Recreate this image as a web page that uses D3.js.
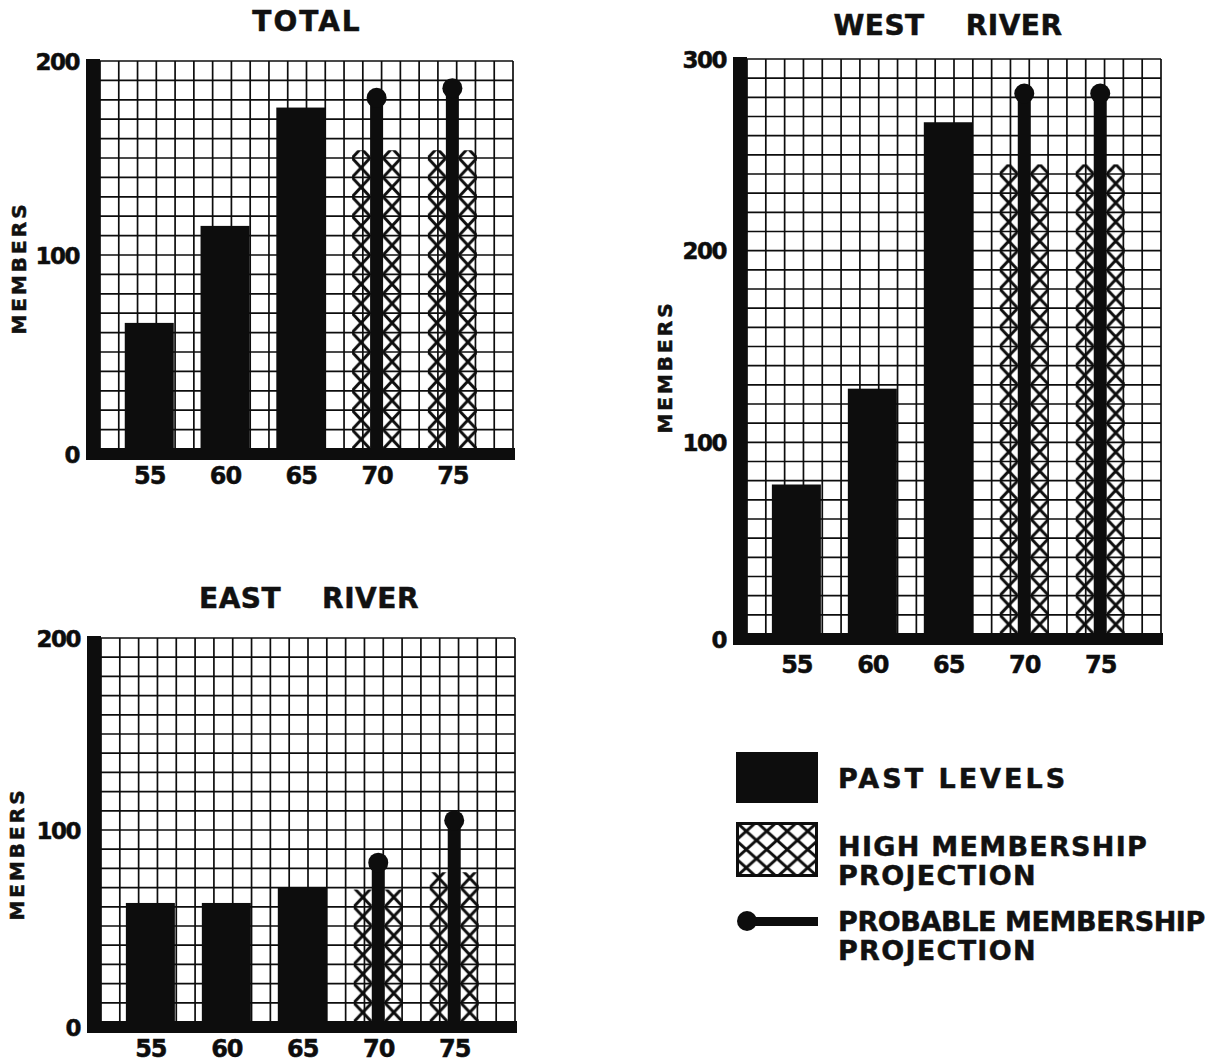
<!DOCTYPE html>
<html>
<head>
<meta charset="utf-8">
<script src="https://cdn.jsdelivr.net/npm/d3@7/dist/d3.min.js"></script>
<style>
  body { margin: 0; background: #fff; }
  svg text { font-family: "DejaVu Sans", sans-serif; font-weight: bold; fill: #111; stroke: #111; stroke-width: 0.5px; }
</style>
</head>
<body>
<svg id="chart" width="1219" height="1063"></svg>
<script>
// years on the x axis
const years = [55, 60, 65, 70, 75];
const pastYears = [55, 60, 65];
const projYears = [70, 75];

// TOTAL
const totalPast = [65, 115, 176];
const totalHigh = [154, 154];
const totalProbable = [181, 186];
const totalTicks = [0, 100, 200];

// WEST RIVER
const westPast = [78, 128, 267];
const westHigh = [245, 245];
const westProbable = [282, 282];
const westTicks = [0, 100, 200, 300];

// EAST RIVER
const eastPast = [62, 62, 70];
const eastHigh = [69, 78];
const eastProbable = [83, 105];
const eastTicks = [0, 100, 200];

const legendLabels = [
    ["PAST LEVELS"],
    ["HIGH MEMBERSHIP", "PROJECTION"],
    ["PROBABLE MEMBERSHIP", "PROJECTION"]
];

const svg = d3.select("#chart");
svg.append("rect").attr("width", 1219).attr("height", 1063).attr("fill", "#fff");
const defs = svg.append("defs");

const ink = "#0d0d0d";
const barWidth = 49;
const stemWidth = 13;

function drawPanel(p) {
    const x = d3.scaleLinear().domain([51.75, 79]).range([p.left, p.right]);
    const y = d3.scaleLinear().domain([0, p.max]).range([p.bottom, p.top]);
    const gridX = d3.scaleLinear().domain([0, 22]).range([p.left, p.right]);
    const g = svg.append("g");

    // grid paper
    g.append("g")
        .selectAll("line")
        .data(d3.range(0, 23))
        .join("line")
        .attr("x1", d => gridX(d)).attr("x2", d => gridX(d))
        .attr("y1", y(p.max)).attr("y2", y(0))
        .style("stroke", ink).style("stroke-width", 1.7);

    g.append("g")
        .selectAll("line")
        .data(d3.range(0, p.max + 1, 10))
        .join("line")
        .attr("x1", p.left).attr("x2", p.right)
        .attr("y1", d => y(d)).attr("y2", d => y(d))
        .style("stroke", ink).style("stroke-width", 1.7);

    // past levels
    g.append("g")
        .selectAll("rect")
        .data(pastYears.map((yr, i) => ({ yr, v: p.past[i] })))
        .join("rect")
        .attr("x", d => x(d.yr) - barWidth / 2)
        .attr("width", barWidth)
        .attr("y", d => y(d.v))
        .attr("height", d => y(0) - y(d.v))
        .style("fill", ink);

    // high projection, two hatched halves around the stem
    const half = (barWidth - stemWidth) / 2;
    const rowH = y(0) - y(10);
    const halves = projYears.flatMap((yr, i) => [
        { id: `hatch-${p.key}-${i}-l`, x0: x(yr) - barWidth / 2, v: p.high[i] },
        { id: `hatch-${p.key}-${i}-r`, x0: x(yr) + stemWidth / 2, v: p.high[i] }
    ]);

    const pat = defs.selectAll(null)
        .data(halves)
        .join("pattern")
        .attr("id", d => d.id)
        .attr("patternUnits", "userSpaceOnUse")
        .attr("x", d => d.x0)
        .attr("y", y(0))
        .attr("width", half)
        .attr("height", rowH);
    pat.append("path")
        .attr("d", `M0,0L${half},${rowH}M${half},0L0,${rowH}`)
        .style("stroke", ink).style("stroke-width", 3).style("fill", "none");

    g.append("g")
        .selectAll("rect")
        .data(halves)
        .join("rect")
        .attr("x", d => d.x0)
        .attr("width", half)
        .attr("y", d => y(d.v))
        .attr("height", d => y(0) - y(d.v))
        .style("fill", d => `url(#${d.id})`);

    // probable projection: stem with a ball on top
    const prob = projYears.map((yr, i) => ({ yr, v: p.probable[i] }));
    g.append("g")
        .selectAll("rect")
        .data(prob)
        .join("rect")
        .attr("x", d => x(d.yr) - stemWidth / 2)
        .attr("width", stemWidth)
        .attr("y", d => y(d.v))
        .attr("height", d => y(0) - y(d.v))
        .style("fill", ink);
    g.append("g")
        .selectAll("circle")
        .data(prob)
        .join("circle")
        .attr("cx", d => x(d.yr))
        .attr("cy", d => y(d.v))
        .attr("r", 10)
        .style("fill", ink);

    // heavy axes
    g.append("rect")
        .attr("x", p.left - 14).attr("width", 14)
        .attr("y", y(p.max) - 2).attr("height", y(0) - y(p.max) + 13)
        .style("fill", ink);
    g.append("rect")
        .attr("x", p.left - 14).attr("width", p.right - p.left + 16)
        .attr("y", y(0) - 1).attr("height", 12)
        .style("fill", ink);

    // tick labels
    const ax = g.append("g")
        .attr("transform", `translate(0,${y(0)})`)
        .call(d3.axisBottom(x).tickValues(years).tickSize(0).tickPadding(p.xPad));
    ax.select(".domain").remove();
    ax.selectAll("text")
        .attr("font-size", 24).attr("font-family", null)
        .attr("letter-spacing", -1).style("fill", ink);

    const ay = g.append("g")
        .attr("transform", `translate(${p.left},0)`)
        .call(d3.axisLeft(y).tickValues(p.ticks).tickSize(0).tickPadding(21));
    ay.select(".domain").remove();
    ay.selectAll("text")
        .attr("font-size", 23).attr("font-family", null)
        .attr("letter-spacing", -1.5).style("fill", ink)
        .attr("dy", d => d === 0 ? "0.6em" : "0.36em");

    // titles
    g.append("text")
        .attr("x", p.titleX).attr("y", p.titleY)
        .attr("text-anchor", "middle")
        .attr("font-size", 28)
        .attr("letter-spacing", p.titleSpacing)
        .style("white-space", "pre")
        .text(p.title);

    g.append("text")
        .attr("transform", `translate(${p.labelX},${p.labelY}) rotate(-90)`)
        .attr("text-anchor", "middle")
        .attr("dy", "0.36em")
        .attr("font-size", 20)
        .attr("letter-spacing", 3)
        .text("MEMBERS");
}

drawPanel({ key: "total", title: "TOTAL", titleSpacing: 2, past: totalPast, high: totalHigh,
    probable: totalProbable, ticks: totalTicks, max: 200, left: 100, right: 513, top: 61, bottom: 449,
    xPad: 18, titleX: 307, titleY: 31, labelX: 19, labelY: 268 });

drawPanel({ key: "west", title: "WEST    RIVER", titleSpacing: 0.5, past: westPast, high: westHigh,
    probable: westProbable, ticks: westTicks, max: 300, left: 747, right: 1161, top: 59, bottom: 634,
    xPad: 22, titleX: 948, titleY: 35, labelX: 665, labelY: 367 });

drawPanel({ key: "east", title: "EAST    RIVER", titleSpacing: 0.5, past: eastPast, high: eastHigh,
    probable: eastProbable, ticks: eastTicks, max: 200, left: 101, right: 515, top: 638, bottom: 1022,
    xPad: 18, titleX: 309, titleY: 608, labelX: 17, labelY: 854 });

// legend
const legend = svg.append("g");
legend.append("rect")
    .attr("x", 736).attr("y", 752).attr("width", 82).attr("height", 51)
    .style("fill", ink);

defs.append("pattern")
    .attr("id", "legend-hatch")
    .attr("patternUnits", "userSpaceOnUse")
    .attr("x", 736).attr("y", 822)
    .attr("width", 20.5).attr("height", 18.3)
    .append("path")
    .attr("d", "M0,0L20.5,18.3M20.5,0L0,18.3")
    .style("stroke", ink).style("stroke-width", 3).style("fill", "none");

legend.append("rect")
    .attr("x", 737.5).attr("y", 823.5).attr("width", 79).attr("height", 52)
    .style("fill", "url(#legend-hatch)")
    .style("stroke", ink).style("stroke-width", 3);

legend.append("rect")
    .attr("x", 747).attr("y", 917).attr("width", 71).attr("height", 9)
    .style("fill", ink);
legend.append("circle")
    .attr("cx", 747).attr("cy", 921).attr("r", 10)
    .style("fill", ink);

// per-line letter spacing, to match the widths of the original lettering
const legendY = [788, 856, 931];
const legendSpacing = [[3], [1.3, 1.3], [-0.4, 1.3]];
legendLabels.forEach((lines, i) => {
    const t = legend.append("text")
        .attr("x", 838).attr("y", legendY[i])
        .attr("font-size", 27);
    lines.forEach((s, j) => {
        t.append("tspan")
            .attr("x", 838).attr("dy", j === 0 ? 0 : 29)
            .attr("letter-spacing", legendSpacing[i][j])
            .text(s);
    });
});
</script>
</body>
</html>
